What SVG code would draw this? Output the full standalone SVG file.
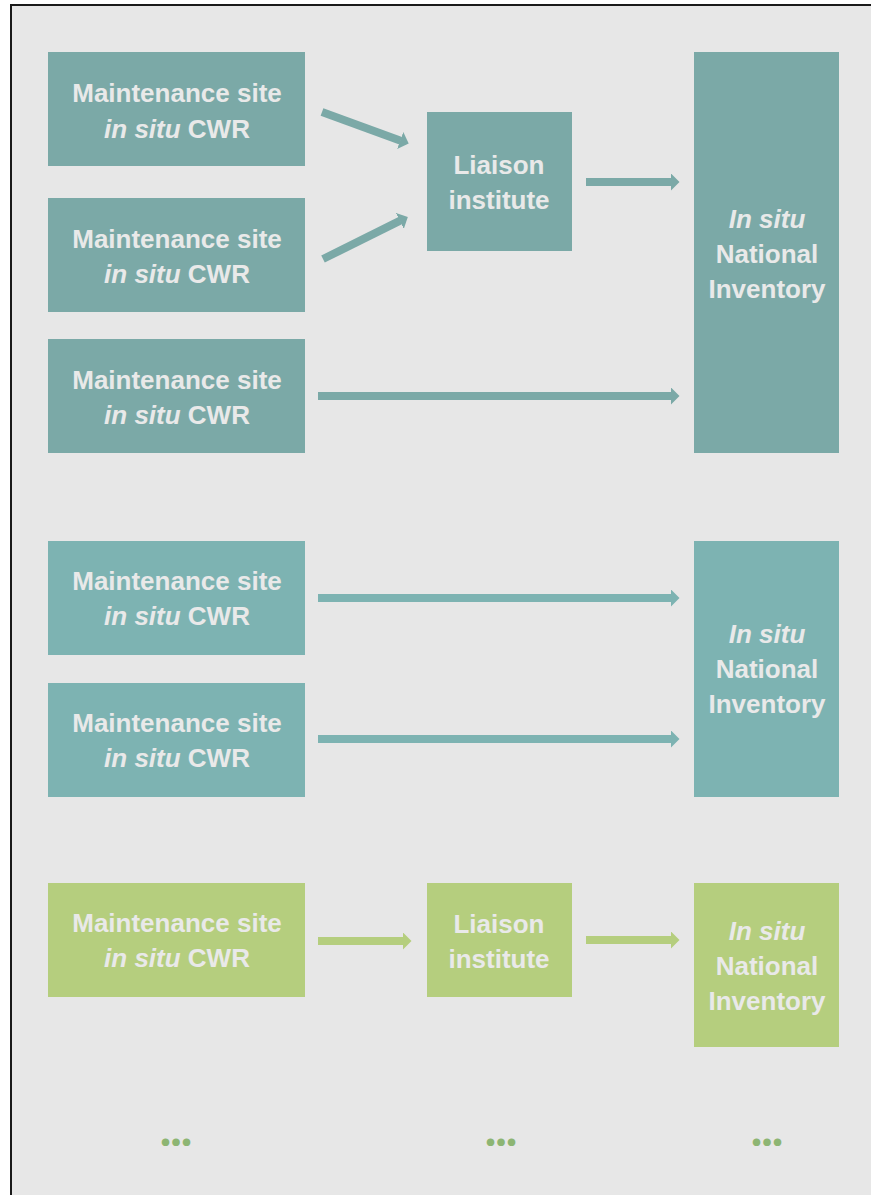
<svg xmlns="http://www.w3.org/2000/svg" width="871" height="1195" viewBox="0 0 871 1195">
<style>
.bg{fill:#e7e7e7;stroke:#1a1a1a;stroke-width:2}
.t1{fill:#7ba9a7}
.t2{fill:#7db3b2}
.g{fill:#b5ce7e}
text{font-family:"Liberation Sans",Arial,sans-serif;font-weight:bold;font-size:26px;fill:#e9e9e9;text-anchor:middle}
.it{font-style:italic}
.a1{stroke:#7ba9a7;stroke-width:8;fill:none}
.a2{stroke:#7db3b2;stroke-width:8;fill:none}
.a3{stroke:#b5ce7e;stroke-width:8;fill:none}
.dots{fill:#8db573;font-family:"Open Sans","Liberation Sans",sans-serif;font-size:44px;letter-spacing:-2px}
</style>
<defs>
<marker id="h1" viewBox="0 0 9 18" refX="0.5" refY="9" markerWidth="9" markerHeight="18" markerUnits="userSpaceOnUse" orient="auto"><path d="M0,0 L9,9 L0,18 Z" fill="#7ba9a7"/></marker>
<marker id="h2" viewBox="0 0 9 18" refX="0.5" refY="9" markerWidth="9" markerHeight="18" markerUnits="userSpaceOnUse" orient="auto"><path d="M0,0 L9,9 L0,18 Z" fill="#7db3b2"/></marker>
<marker id="h3" viewBox="0 0 9 18" refX="0.5" refY="9" markerWidth="9" markerHeight="18" markerUnits="userSpaceOnUse" orient="auto"><path d="M0,0 L9,9 L0,18 Z" fill="#b5ce7e"/></marker>
</defs>
<rect class="bg" x="11" y="5" width="880" height="1210"/>

<g id="connectors">
<line class="a1" x1="322" y1="112" x2="400.7" y2="140.7" marker-end="url(#h1)"/>
<line class="a1" x1="323" y1="259" x2="400.2" y2="220.7" marker-end="url(#h1)"/>
<line class="a1" x1="586" y1="182" x2="671" y2="182" marker-end="url(#h1)"/>
<line class="a1" x1="318" y1="396" x2="671" y2="396" marker-end="url(#h1)"/>
<line class="a2" x1="318" y1="598" x2="671" y2="598" marker-end="url(#h2)"/>
<line class="a2" x1="318" y1="739" x2="671" y2="739" marker-end="url(#h2)"/>
<line class="a3" x1="318" y1="941" x2="403" y2="941" marker-end="url(#h3)"/>
<line class="a3" x1="586" y1="940" x2="671" y2="940" marker-end="url(#h3)"/>
</g>

<g id="ms1"><rect class="t1" x="48" y="52" width="257" height="114"/>
<text x="177" y="102">Maintenance site</text><text x="177" y="138"><tspan class="it">in situ</tspan> CWR</text></g>
<g id="ms2"><rect class="t1" x="48" y="198" width="257" height="114"/>
<text x="177" y="248">Maintenance site</text><text x="177" y="283"><tspan class="it">in situ</tspan> CWR</text></g>
<g id="ms3"><rect class="t1" x="48" y="339" width="257" height="114"/>
<text x="177" y="389">Maintenance site</text><text x="177" y="424"><tspan class="it">in situ</tspan> CWR</text></g>
<g id="li1"><rect class="t1" x="427" y="112" width="145" height="139"/>
<text x="499" y="174">Liaison</text><text x="499" y="209">institute</text></g>
<g id="ni1"><rect class="t1" x="694" y="52" width="145" height="401"/>
<text x="767" y="228" class="it">In situ</text><text x="767" y="263">National</text><text x="767" y="298">Inventory</text></g>

<g id="ms4"><rect class="t2" x="48" y="541" width="257" height="114"/>
<text x="177" y="590">Maintenance site</text><text x="177" y="625"><tspan class="it">in situ</tspan> CWR</text></g>
<g id="ms5"><rect class="t2" x="48" y="683" width="257" height="114"/>
<text x="177" y="732">Maintenance site</text><text x="177" y="767"><tspan class="it">in situ</tspan> CWR</text></g>
<g id="ni2"><rect class="t2" x="694" y="541" width="145" height="256"/>
<text x="767" y="643" class="it">In situ</text><text x="767" y="678">National</text><text x="767" y="713">Inventory</text></g>

<g id="ms6"><rect class="g" x="48" y="883" width="257" height="114"/>
<text x="177" y="932">Maintenance site</text><text x="177" y="967"><tspan class="it">in situ</tspan> CWR</text></g>
<g id="li2"><rect class="g" x="427" y="883" width="145" height="114"/>
<text x="499" y="933">Liaison</text><text x="499" y="968">institute</text></g>
<g id="ni3"><rect class="g" x="694" y="883" width="145" height="164"/>
<text x="767" y="940" class="it">In situ</text><text x="767" y="975">National</text><text x="767" y="1010">Inventory</text></g>

<g id="ellipses">
<text class="dots" x="175" y="1146">...</text>
<text class="dots" x="500" y="1146">...</text>
<text class="dots" x="766" y="1146">...</text>
</g>
</svg>
